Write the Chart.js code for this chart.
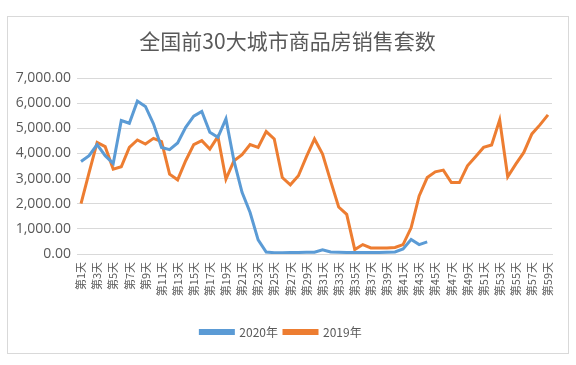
<!DOCTYPE html>
<html>
<head>
<meta charset="utf-8">
<script src="https://cdn.jsdelivr.net/npm/chart.js@4"></script>
<style>
    html, body { margin: 0; padding: 0; background: #fff; }
    #wrap { position: relative; width: 576px; height: 365px; }
    #title {
        position: absolute; left: 0; top: 27px; width: 575px;
        text-align: center; font: 21px/26px "Noto Sans CJK SC", sans-serif; color: #595959;
    }
</style>
</head>
<body>
<div id="wrap">
    <canvas id="chart" width="576" height="365"></canvas>
    <div id="title">全国前30大城市商品房销售套数</div>
</div>
<script>
// Days 1..59
const days = Array.from({ length: 59 }, (_, i) => '第' + (i + 1) + '天');

// 2020 (data stops at day 44)
const sales2020 = [
    3680, 3910, 4350, 3910, 3600, 5310, 5200, 6080, 5870, 5175,
    4240, 4150, 4415, 5040, 5480, 5670, 4840, 4640, 5375, 3700,
    2450, 1650, 560, 80, 50, 50, 60, 60, 70, 70,
    170, 80, 70, 60, 60, 60, 60, 60, 70, 80,
    200, 575, 375, 480
];

// 2019
const sales2019 = [
    2000, 3240, 4440, 4270, 3375, 3470, 4240, 4535, 4375, 4600,
    4470, 3175, 2950, 3710, 4350, 4510, 4175, 4670, 2975, 3710,
    3950, 4350, 4240, 4870, 4575, 3040, 2750, 3110, 3870, 4575,
    3975, 2910, 1870, 1575, 175, 375, 240, 240, 240, 260,
    375, 1040, 2310, 3040, 3270, 3335, 2840, 2840, 3510, 3870,
    4240, 4335, 5335, 3070, 3575, 4040, 4775, 5135, 5535
];

const yTicks = [0, 1000, 2000, 3000, 4000, 5000, 6000, 7000];

const cjk = '"Noto Sans CJK SC", "Noto Sans", sans-serif';
const grey = '#595959';

// outer frame of the chart
const frame = {
    id: 'frame',
    beforeDraw(chart) {
        const ctx = chart.ctx;
        ctx.save();
        ctx.fillStyle = '#fff';
        ctx.fillRect(0, 0, chart.width, chart.height);
        ctx.strokeStyle = '#d9d9d9';
        ctx.lineWidth = 1;
        ctx.strokeRect(7.5, 16.5, 561, 337);
        ctx.restore();
    }
};

new Chart(document.getElementById('chart'), {
    type: 'line',
    data: {
        labels: days,
        datasets: [
            {
                label: '2020年',
                data: sales2020,
                borderColor: '#5b9bd5',
                backgroundColor: '#5b9bd5',
                borderWidth: 3,
                pointRadius: 0,
                tension: 0
            },
            {
                label: '2019年',
                data: sales2019,
                borderColor: '#ed7d31',
                backgroundColor: '#ed7d31',
                borderWidth: 3,
                pointRadius: 0,
                tension: 0
            }
        ]
    },
    options: {
        responsive: false,
        animation: false,
        layout: { padding: { left: 10, right: 24, top: 78, bottom: 17 } },
        plugins: {
            title: { display: false },
            legend: {
                position: 'bottom',
                labels: {
                    color: grey,
                    font: { family: cjk, size: 12 },
                    boxWidth: 33,
                    boxHeight: 3,
                    padding: 6
                }
            },
            tooltip: { enabled: false }
        },
        scales: {
            x: {
                offset: true,
                afterFit: s => { s.height = 66; },
                grid: { display: false, drawTicks: false },
                border: { color: '#d9d9d9' },
                ticks: {
                    autoSkip: false,
                    maxRotation: 90,
                    minRotation: 90,
                    color: grey,
                    padding: 8,
                    font: { family: cjk, size: 11 },
                    callback: (v, i) => (i % 2 === 0 ? days[i] : '')
                }
            },
            y: {
                min: 0,
                max: 7000,
                afterBuildTicks: s => { s.ticks = yTicks.map(v => ({ value: v })); },
                afterFit: s => { s.width = 67; },
                grid: { color: '#d9d9d9', drawTicks: false },
                border: { display: false },
                ticks: {
                    color: grey,
                    padding: 6,
                    font: { family: '"Open Sans", sans-serif', size: 14 },
                    callback: v => v.toLocaleString('en-US', { minimumFractionDigits: 2, maximumFractionDigits: 2 })
                }
            }
        }
    },
    plugins: [frame]
});
</script>
</body>
</html>
